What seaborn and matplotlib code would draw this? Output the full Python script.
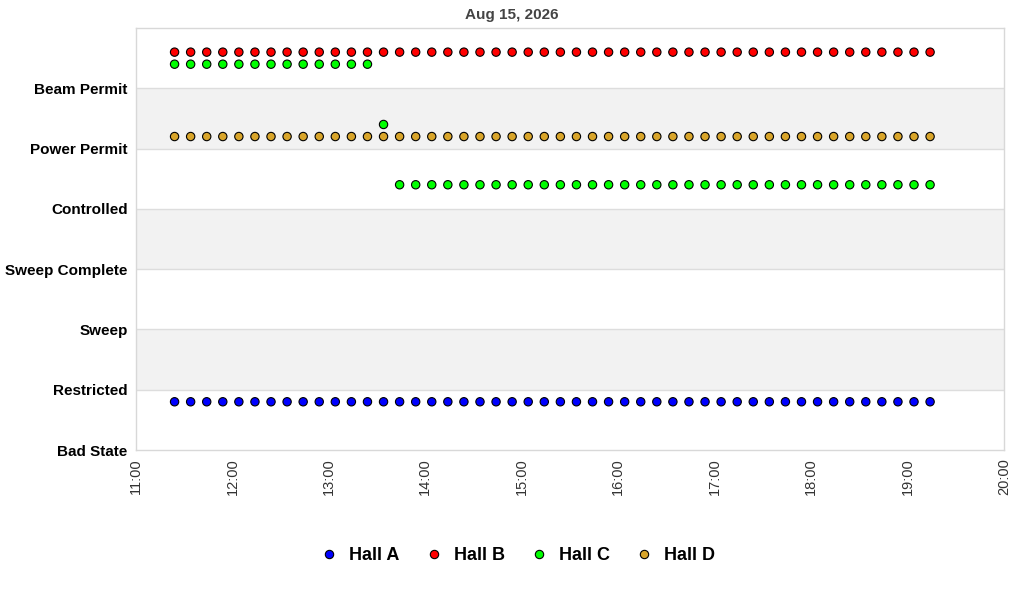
import pandas as pd
import seaborn as sns
import matplotlib.pyplot as plt
import matplotlib.dates as mdates

# state names, bottom to top
states = ['Bad State', 'Restricted', 'Sweep', 'Sweep Complete',
          'Controlled', 'Power Permit', 'Beam Permit']

# samples every 10 minutes, 11:24 to 19:14
times = pd.date_range('2026-08-15 11:24', periods=48, freq='10min')

# state index per sample
hall_a = [0] * 48
hall_b = [6] * 48
hall_c = [6] * 13 + [5] + [4] * 34
hall_d = [5] * 48

halls = ['Hall A', 'Hall B', 'Hall C', 'Hall D']
offsets = {'Hall A': 0.8, 'Hall B': 0.6, 'Hall C': 0.4, 'Hall D': 0.2}
colors = {'Hall A': '#0000ff', 'Hall B': '#ff0000', 'Hall C': '#00ff00', 'Hall D': '#d9a52a'}

frames = []
for name, vals in zip(halls, [hall_a, hall_b, hall_c, hall_d]):
    frames.append(pd.DataFrame({'time': times, 'state': vals, 'hall': name}))
df = pd.concat(frames, ignore_index=True)
df['y'] = df['state'] + df['hall'].map(offsets)

sns.set_style('white')
plt.rcParams['font.family'] = ['Liberation Sans', 'DejaVu Sans']

fig = plt.figure(figsize=(10.24, 6), dpi=100)
ax = fig.add_axes([0.1328, 0.25, 0.8477, 0.7033])

# alternating bands
for lo in [1, 3, 5]:
    ax.axhspan(lo, lo + 1, color='#f2f2f2', zorder=0, lw=0)
for v in range(1, 7):
    ax.axhline(v, color='#dddddd', lw=1, zorder=0.5)

sns.scatterplot(data=df, x='time', y='y', hue='hall', palette=colors,
                hue_order=halls, s=36, edgecolor='black', linewidth=0.8,
                ax=ax, zorder=3)

ax.set_ylim(0, 7)
ax.set_yticks(range(7))
ax.set_yticklabels(states, fontsize=11, fontweight='bold', color='black')
ax.set_xlim(pd.Timestamp('2026-08-15 11:00'), pd.Timestamp('2026-08-15 20:00'))
ax.xaxis.set_major_locator(mdates.HourLocator())
ax.xaxis.set_major_formatter(mdates.DateFormatter('%H:%M'))
plt.setp(ax.get_xticklabels(), rotation=90, fontsize=10.5, color='#333333')
ax.tick_params(length=0, pad=6)
ax.set_xlabel('')
ax.set_ylabel('')
for sp in ax.spines.values():
    sp.set_color('#d8d8d8')
    sp.set_linewidth(1)

fig.suptitle('Aug 15, 2026', x=0.5, y=0.986, fontsize=11, fontweight='bold', color='#444444')

handles, labels = ax.get_legend_handles_labels()
ax.legend_.remove()
leg = fig.legend(handles, labels, loc='center', bbox_to_anchor=(0.503, 0.074), ncol=4,
                 frameon=False, prop={'weight': 'bold', 'size': 13}, handletextpad=0.3,
                 columnspacing=1.1, handlelength=1.6)
for t in leg.get_texts():
    t.set_color('black')

fig.savefig('out.png', dpi=100)
